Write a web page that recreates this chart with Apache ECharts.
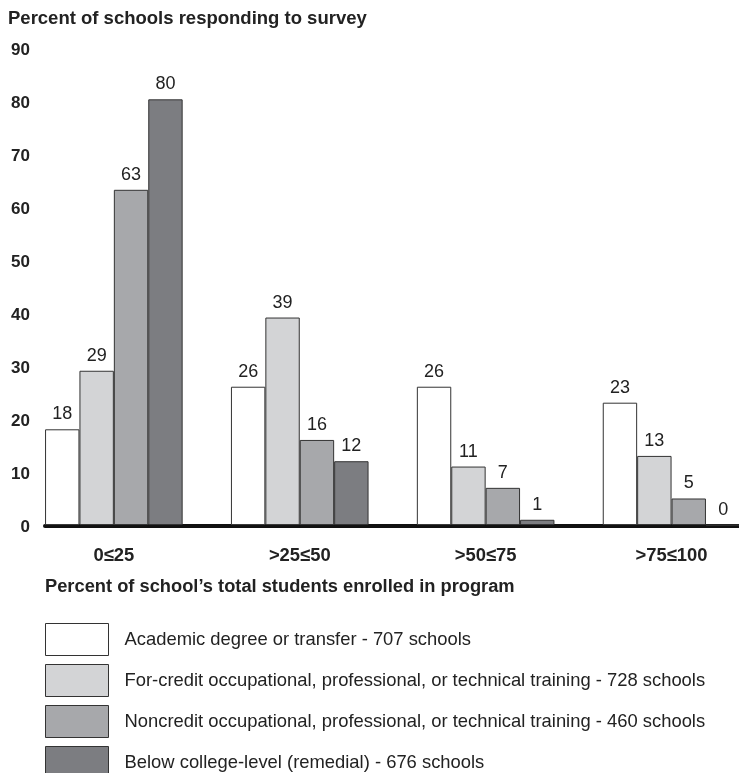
<!DOCTYPE html>
<html>
<head>
<meta charset="utf-8">
<script src="https://cdn.jsdelivr.net/npm/echarts@6/dist/echarts.min.js"></script>
<style>html,body{margin:0;padding:0;background:#fff}#c{width:739px;height:773px}</style>
</head>
<body>
<div id="c"></div>
<script>
const categories = ['0≤25', '>25≤50', '>50≤75', '>75≤100'];
const academic = [18, 26, 26, 23];
const forCredit = [29, 39, 11, 13];
const noncredit = [63, 16, 7, 5];
const remedial = [80, 12, 1, 0];
const seriesNames = [
  'Academic degree or transfer - 707 schools',
  'For-credit occupational, professional, or technical training - 728 schools',
  'Noncredit occupational, professional, or technical training - 460 schools',
  'Below college-level (remedial) - 676 schools'
];
const yMin = 0, yMax = 90, yStep = 10;

const FONT = 'Liberation Sans, Arial, Helvetica, sans-serif';
const colors = ['#ffffff', '#d3d4d6', '#a7a8ab', '#7c7d81'];
const dataSets = [academic, forCredit, noncredit, remedial];

const chart = echarts.init(document.getElementById('c'), null, {renderer: 'canvas'});
const series = dataSets.map((d, i) => ({
  name: seriesNames[i],
  type: 'bar',
  xAxisIndex: 0,
  yAxisIndex: 0,
  data: d,
  barWidth: 34.4,
  barGap: '0%',
  itemStyle: {color: colors[i], borderColor: '#333', borderWidth: 1},
  label: {show: true, position: 'top', distance: 6, color: '#222', fontSize: 18, fontFamily: FONT},
  emphasis: {disabled: true},
  animation: false
}));

chart.setOption({
  animation: false,
  title: [
    {text: 'Percent of schools responding to survey', left: 3, top: 4,
     textStyle: {fontFamily: FONT, fontSize: 18.5, fontWeight: 'bold', color: '#222'}},
    {text: 'Percent of school\u2019s total students enrolled in program', left: 40, top: 573,
     textStyle: {fontFamily: FONT, fontSize: 18.3, fontWeight: 'bold', color: '#222'}}
  ],
  legend: {
    orient: 'vertical', left: 45, top: 623, height: 170, padding: 0,
    itemWidth: 63, itemHeight: 32, itemGap: 8, icon: 'rect',
    selectedMode: false,
    textStyle: {fontFamily: FONT, fontSize: 18.4, color: '#222', padding: [0, 0, 0, 11]},
    data: seriesNames.map((n, i) => ({name: n, itemStyle: {color: colors[i], borderColor: '#333', borderWidth: 1}}))
  },
  grid: [
    {left: 20.9, width: 743.6, top: 46.1, height: 479, containLabel: false, outerBoundsMode: 'none'},
    {left: 45, right: 0, top: 50, height: 477.5, containLabel: false, outerBoundsMode: 'none'},
    {left: 45, right: 0, top: 46, height: 479.3, containLabel: false, outerBoundsMode: 'none'}
  ],
  xAxis: [
    {type: 'category', gridIndex: 0, data: categories,
     axisLine: {show: false}, axisTick: {show: false},
     axisLabel: {fontFamily: FONT, fontSize: 18.4, fontWeight: 'bold', color: '#222', margin: 22}},
    {type: 'category', gridIndex: 1, data: categories, show: false},
    {type: 'category', gridIndex: 2, data: categories,
     axisLine: {show: true, lineStyle: {color: '#111', width: 4}},
     axisTick: {show: false}, axisLabel: {show: false}}
  ],
  yAxis: [
    {type: 'value', gridIndex: 0, min: yMin, max: yMax, interval: yStep, show: false},
    {type: 'value', gridIndex: 1, min: yMin, max: yMax, interval: yStep,
     axisLine: {show: false}, axisTick: {show: false}, splitLine: {show: false},
     axisLabel: {fontFamily: FONT, fontSize: 17, fontWeight: 'bold', color: '#222', margin: 15}},
    {type: 'value', gridIndex: 2, min: yMin, max: yMax, interval: yStep, show: false}
  ],
  series: series
});
</script>
</body>
</html>
